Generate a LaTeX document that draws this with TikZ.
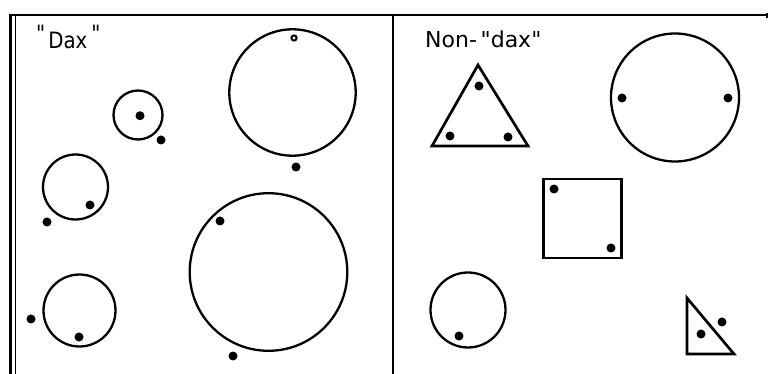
\documentclass[tikz,border=0pt]{standalone}
\usepackage{fontspec}
\newfontfamily\lbl{DejaVu Sans}
\newfontfamily\lblnarrow[FakeStretch=0.88]{DejaVu Sans}
\begin{document}
\begin{tikzpicture}[x=1pt,y=-1pt,
  ring/.style={line width=2.3pt},
  poly/.style={line width=2.7pt, line join=miter},
  dot/.style={fill=black},
  frame/.style={line width=2pt}]
\useasboundingbox (0,0) rectangle (769,374);
% frame
\draw[frame] (9,15) -- (767,15);
\draw[line width=1.2pt] (767,13) -- (767,18);
\draw[line width=2.4pt] (10.3,14) -- (10.3,374);
\draw[line width=0.8pt] (15,16) -- (15,374);
\draw[line width=1.8pt] (392.7,15) -- (392.7,374);
% labels
\node[anchor=base west, inner sep=0pt, font=\lblnarrow\fontsize{22.5}{22.5}\selectfont] (dax) at (36,49)
  {\raisebox{7pt}{"}\hspace{3pt}Dax\hspace{4pt}\raisebox{7pt}{"}};
\node[anchor=base west, inner sep=0pt, font=\lbl\fontsize{22}{22}\selectfont] (nondax) at (425,48) {Non-\,"dax"};
% Dax panel
\draw[ring] (138,115) circle (24.5);
\fill[dot] (140,115.7) circle (4.5);
\fill[dot] (161,140) circle (4.5);
\draw[ring] (292.5,92.5) circle (63.2);
\draw[line width=2pt] (294,38) circle (2.6);
\fill[dot] (296,167) circle (4.5);
\draw[ring] (75.5,187) circle (32.5);
\fill[dot] (90,205) circle (4.5);
\fill[dot] (47,222) circle (4.5);
\draw[ring] (79.5,310.5) circle (36);
\fill[dot] (79,337) circle (4.5);
\fill[dot] (31,319) circle (4.5);
\draw[ring] (268.5,272) circle (78.8);
\fill[dot] (220,221) circle (4.5);
\fill[dot] (233,356) circle (4.5);
% Non-dax panel
\draw[poly] (478,65) -- (432,146) -- (528,146) -- cycle;
\fill[dot] (479,86) circle (4.5);
\fill[dot] (450,136) circle (4.5);
\fill[dot] (508,137) circle (4.5);
\draw[ring] (675,97.5) circle (64);
\fill[dot] (622,98) circle (4.5);
\fill[dot] (728,98) circle (4.5);
\draw[poly] (543.5,179) rectangle (621.5,258);
\fill[dot] (554,189) circle (4.5);
\fill[dot] (611,248) circle (4.5);
\draw[ring] (468,310) circle (37.5);
\fill[dot] (459,336) circle (4.5);
\draw[poly] (687,298) -- (687,354) -- (734,354) -- cycle;
\fill[dot] (701,334) circle (4.5);
\fill[dot] (722,322) circle (4.5);
\end{tikzpicture}
\end{document}
